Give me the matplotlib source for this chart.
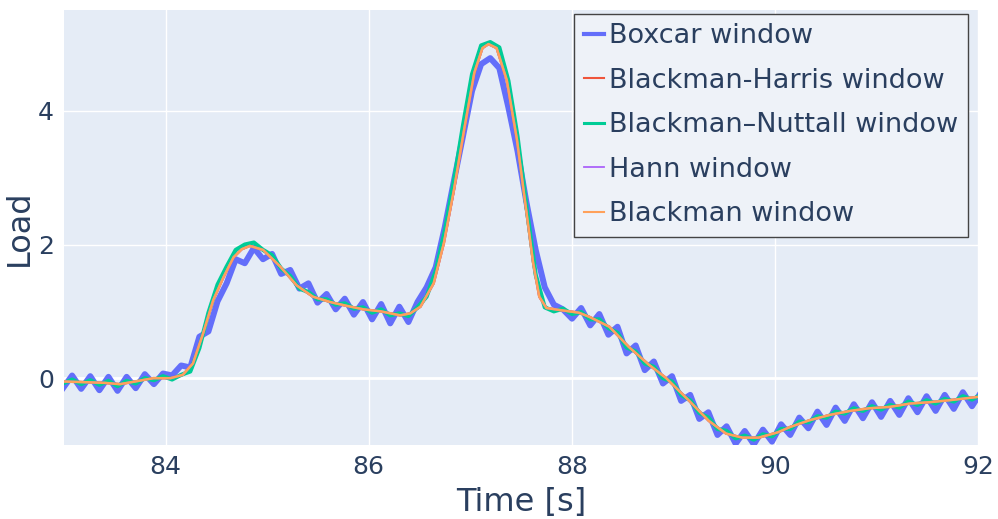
import numpy as np
import matplotlib.pyplot as plt

plt.rcParams['font.family'] = ['DejaVu Sans']

# smoothed load (Blackman / Hann / Blackman-Harris are visually identical)
smooth_t = [83.00, 83.20, 83.40, 83.55, 83.70, 83.88, 84.05, 84.17, 84.27, 84.37,
            84.47, 84.57, 84.67, 84.75, 84.83, 84.96, 85.13, 85.29, 85.45, 85.62,
            85.79, 85.95, 86.12, 86.31, 86.41, 86.51, 86.64, 86.74, 86.84, 86.94,
            87.04, 87.12, 87.18, 87.26, 87.36, 87.46, 87.56, 87.62, 87.68, 87.75,
            87.88, 88.07, 88.17, 88.37, 88.56, 88.76, 88.93, 89.15, 89.35, 89.52,
            89.68, 89.84, 90.03, 90.15, 90.34, 90.54, 90.74, 90.93, 91.13, 91.33,
            91.52, 91.72, 92.00]
smooth_v = [-0.05, -0.06, -0.07, -0.09, -0.05, 0.00, 0.00, 0.05, 0.22, 0.67,
            1.17, 1.51, 1.81, 1.93, 1.98, 1.92, 1.67, 1.39, 1.22, 1.14,
            1.08, 1.03, 1.00, 0.94, 0.97, 1.07, 1.42, 2.02, 2.82, 3.72,
            4.57, 4.94, 5.00, 4.94, 4.46, 3.57, 2.41, 1.72, 1.22, 1.05,
            1.02, 0.98, 0.92, 0.77, 0.47, 0.20, 0.00, -0.33, -0.64, -0.83,
            -0.89, -0.89, -0.81, -0.73, -0.63, -0.55, -0.49, -0.45, -0.43, -0.38,
            -0.36, -0.33, -0.28]

# boxcar and Blackman-Nuttall, sampled at every ripple crest/trough
boxcar = [-0.15, 0.04, -0.16, 0.03, -0.18, 0.02, -0.19, 0.02, -0.15, 0.06,
          -0.09, 0.07, 0.04, 0.19, 0.16, 0.62, 0.70, 1.15, 1.42, 1.78,
          1.72, 1.95, 1.78, 1.86, 1.56, 1.62, 1.34, 1.42, 1.13, 1.26,
          1.03, 1.19, 0.95, 1.14, 0.88, 1.11, 0.82, 1.07, 0.84, 1.14,
          1.36, 1.66, 2.26, 2.95, 3.62, 4.30, 4.70, 4.79, 4.64, 4.05,
          3.40, 2.62, 1.92, 1.36, 1.10, 1.03, 0.89, 1.05, 0.79, 0.96,
          0.65, 0.77, 0.37, 0.49, 0.12, 0.25, -0.08, 0.03, -0.34, -0.25,
          -0.61, -0.51, -0.85, -0.72, -0.98, -0.79, -0.99, -0.77, -0.95, -0.69,
          -0.85, -0.59, -0.75, -0.50, -0.70, -0.44, -0.64, -0.39, -0.60, -0.36,
          -0.58, -0.34, -0.55, -0.30, -0.51, -0.27, -0.49, -0.25, -0.46, -0.21,
          -0.42, -0.21]
nuttall = [-0.08, -0.02, -0.09, -0.03, -0.10, -0.04, -0.12, -0.04, -0.08, 0.00,
           -0.03, 0.03, -0.02, 0.05, 0.10, 0.45, 0.98, 1.40, 1.67, 1.92,
           2.00, 2.03, 1.92, 1.84, 1.64, 1.53, 1.34, 1.29, 1.18, 1.18,
           1.10, 1.12, 1.04, 1.06, 0.98, 1.03, 0.94, 0.97, 0.93, 1.06,
           1.22, 1.60, 2.20, 2.95, 3.78, 4.55, 4.98, 5.03, 4.95, 4.45,
           3.62, 2.55, 1.55, 1.06, 1.00, 1.04, 0.96, 0.99, 0.88, 0.88,
           0.75, 0.68, 0.46, 0.40, 0.22, 0.17, 0.00, -0.05, -0.25, -0.33,
           -0.52, -0.59, -0.76, -0.79, -0.90, -0.86, -0.92, -0.84, -0.87, -0.76,
           -0.76, -0.65, -0.66, -0.57, -0.59, -0.50, -0.53, -0.45, -0.49, -0.42,
           -0.47, -0.40, -0.44, -0.35, -0.40, -0.33, -0.38, -0.31, -0.35, -0.27,
           -0.32, -0.25]
ripple_t = 82.9905 + 0.0895 * np.arange(len(boxcar))

txt = '#2a3f5f'
fig = plt.figure(figsize=(9.98, 5.19), dpi=100)
ax = fig.add_axes([0.0641, 0.1426, 0.9159, 0.8381])
ax.set_facecolor('#E5ECF6')
for s in ax.spines.values():
    s.set_visible(False)
ax.grid(True, color='white', linewidth=1)
ax.set_axisbelow(True)
ax.axhline(0, color='white', linewidth=2, zorder=0.6)

ax.plot(ripple_t, boxcar, color='#636efa', lw=4.3, label='Boxcar window')
ax.plot(smooth_t, smooth_v, color='#EF553B', lw=1.8, label='Blackman-Harris window')
ax.plot(ripple_t, nuttall, color='#00cc96', lw=3.0, label='Blackman–Nuttall window')
ax.plot(smooth_t, smooth_v, color='#ab63fa', lw=1.6, label='Hann window')
ax.plot(smooth_t, smooth_v, color='#FFA15A', lw=1.8, label='Blackman window')

ax.set_xlim(83, 92)
ax.set_ylim(-1.0, 5.51)
ax.set_xticks([84, 86, 88, 90, 92])
ax.set_yticks([0, 2, 4])
ax.tick_params(length=0, labelsize=18, labelcolor=txt, pad=7)
ax.set_xlabel('Time [s]', fontsize=23, color=txt, labelpad=6)
ax.set_ylabel('Load', fontsize=23, color=txt)
ax.yaxis.set_label_coords(-0.032, 0.5)

leg = ax.legend(loc='upper right', bbox_to_anchor=(0.989, 0.991), fontsize=19.5,
                frameon=True, fancybox=False, facecolor='#eef2f8', edgecolor='#444444',
                framealpha=1, handlelength=0.75, handletextpad=0.2,
                labelspacing=0.68, borderpad=0.35, borderaxespad=0)
leg.get_frame().set_linewidth(1)
for t in leg.get_texts():
    t.set_color(txt)
# thinner strokes for the legend keys
for h, w in zip(leg.get_lines(), [3.0, 1.5, 2.2, 1.3, 1.5]):
    h.set_linewidth(w)

plt.savefig('out.png', dpi=100)
